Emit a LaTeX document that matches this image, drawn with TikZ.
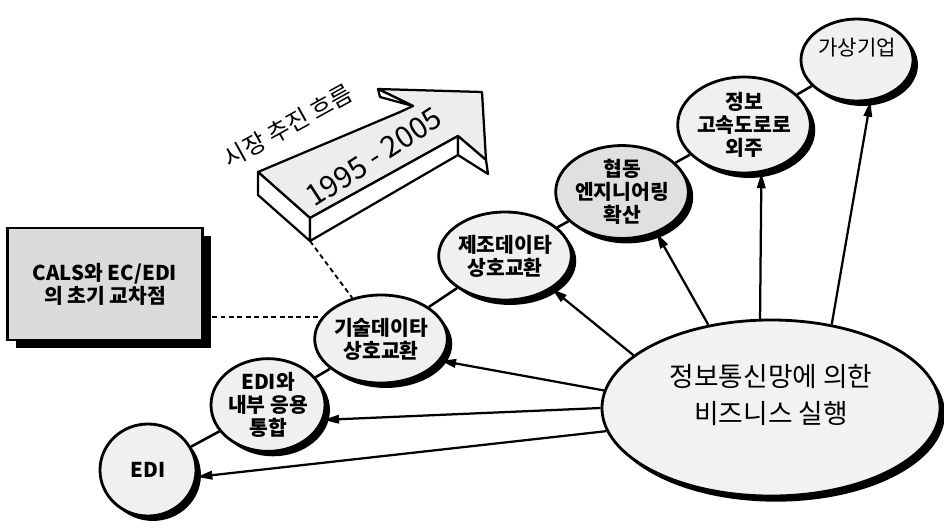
\documentclass[tikz,border=0pt]{standalone}
\usepackage{fontspec}
\setmainfont{Noto Sans CJK KR}
\usetikzlibrary{shapes.geometric,shadows,arrows.meta}
\tikzset{
  stage/.style = {ellipse, draw, line width=2pt, fill=black!6, inner sep=0, align=center,
                  font=\fontsize{14.5}{16.5}\selectfont\bfseries,
                  general shadow={fill=black, shadow xshift=3.5pt, shadow yshift=-3.5pt}},
  hub/.style   = {ellipse, draw, line width=2pt, fill=black!5, inner sep=0, align=center,
                  minimum width=8.45cm, minimum height=4.4cm, text depth=20pt,
                  font=\fontsize{19}{26}\selectfont,
                  general shadow={fill=black, shadow xshift=3.5pt, shadow yshift=-4pt}},
  note/.style  = {rectangle, draw, line width=1.6pt, fill=black!14, align=center,
                  minimum width=4.875cm, minimum height=2.8cm,
                  font=\fontsize{14.5}{16.5}\selectfont\bfseries,
                  general shadow={fill=black, shadow xshift=6pt, shadow yshift=-6pt}},
  link/.style  = {line width=1.8pt},
  drive/.style = {line width=1.6pt, -{Triangle[length=11pt,width=6pt]}},
  guide/.style = {line width=1.3pt, dash pattern=on 3.5pt off 2.5pt},
  face/.style  = {line width=1.6pt, line join=round, draw, fill=white},
  et/.style    = {font=\fontsize{18}{20}\selectfont}
}
\begin{document}
\begin{tikzpicture}[x=0.025cm,y=-0.025cm]
  \useasboundingbox (0,0) rectangle (944,527);

  \filldraw[face, fill=black!7] (258,172)--(400,112)--(413,106)--(378,89)--(482,92)--(486,160)--(458,136)--(310,218)--cycle;
  \filldraw[face] (258,172)--(310,218)--(310,241)--(258,195)--cycle;
  \filldraw[face] (310,218)--(458,136)--(458,155)--(310,241)--cycle;
  \filldraw[face] (458,136)--(486,160)--(488,174)--(458,155)--cycle;
  \filldraw[face] (378,89)--(380,97)--(413,106)--cycle;
  \coordinate (abot) at (310,241);
  \node[et, font=\fontsize{21}{22}\selectfont, rotate=33] (years) at (374,157) {1995 - 2005};
  \node[et, font=\fontsize{17}{19}\selectfont, rotate=29] (flow) at (288,126) {시장 추진 흐름};

  \node[note] (cals) at (105,284) {CALS와 EC/EDI\\의 초기 교차점};

  \node[stage, minimum width=2.4cm,  minimum height=2.3cm]  (edi)    at (148,470) {EDI};
  \node[stage, minimum width=2.85cm, minimum height=2.25cm] (eai)    at (268,405) {EDI와\\내부 응용\\통합};
  \node[stage, minimum width=2.8cm,  minimum height=2.2cm]  (tech)   at (381,339) {기술데이타\\상호교환};
  \node[stage, minimum width=2.6cm,  minimum height=2.2cm]  (mfg)    at (505,256) {제조데이타\\상호교환};
  \node[stage, minimum width=2.75cm, minimum height=2.3cm, fill=black!12] (collab) at (622,192) {협동\\엔지니어링\\확산};
  \node[stage, minimum width=2.8cm,  minimum height=2.4cm]  (hwy)    at (744,125) {정보\\고속도로로\\외주};
  \node[stage, minimum width=2.8cm,  minimum height=2.05cm, text depth=19pt, font=\fontsize{15}{16.5}\selectfont] (virt) at (857,60) {가상기업};

  \node[hub] (net) at (771,408) {정보통신망에 의한\\비즈니스 실행};

  \draw[link] (edi)--(eai) (eai)--(tech) (tech)--(mfg) (mfg)--(collab) (collab)--(hwy) (hwy)--(virt);

  \draw[drive] (net.188)--(edi.-8);
  \draw[drive] (net.180)--(eai.-15);
  \draw[drive] (net.174)--(tech.-20);
  \draw[drive] (net.159)--(mfg.-35);
  \draw[drive] (net.127)--(collab.-50);
  \draw[drive] (net.97)--(hwy.-70);
  \draw[drive] (net.54)--(virt.-72);

  \draw[guide] (cals.east |- tech.160)--(tech.160);
  \draw[guide] (abot)--(tech.125);
\end{tikzpicture}
\end{document}
